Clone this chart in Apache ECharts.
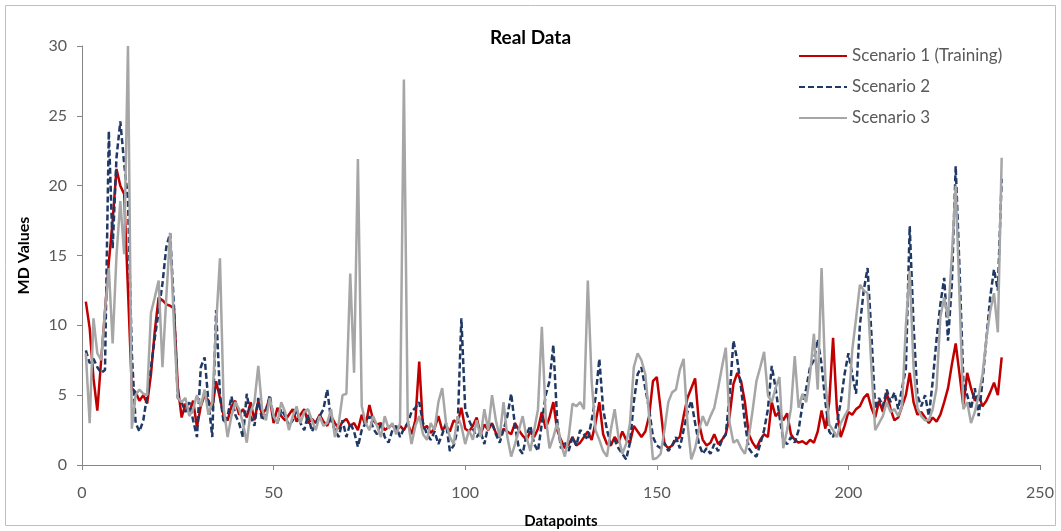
<!DOCTYPE html>
<html lang="en">
<head>
    <meta charset="UTF-8">
    <title>Real Data</title>
    <script src="https://cdn.jsdelivr.net/npm/echarts@6/dist/echarts.min.js"></script>
    <style>
        html, body { margin: 0; padding: 0; background: #fff; }
    </style>
</head>
<body>
    <div id="main" style="width: 1061px;height: 531px"></div>
<script>
    // values, one per datapoint (1..240)
    var scenario1 = [
        11.7, 9.8, 6.2, 3.9, 7.5, 11.0, 14.5, 17.5, 21.2, 20.0,
        19.4, 12.5, 5.5, 5.2, 4.6, 5.0, 4.4, 6.5, 9.6, 12.0,
        11.8, 11.5, 11.4, 11.2, 5.6, 3.4, 4.4, 3.8, 4.6, 2.7,
        4.2, 5.0, 4.6, 4.0, 6.0, 4.8, 3.5, 3.2, 4.2, 4.6,
        3.6, 4.0, 3.4, 4.5, 3.2, 4.6, 3.6, 4.0, 4.8, 3.0,
        4.1, 3.5, 3.2, 3.6, 4.0, 3.1, 3.6, 4.0, 3.0, 3.3,
        3.0, 3.6, 3.1, 2.8, 3.5, 3.0, 2.6, 3.1, 3.3, 2.8,
        3.0, 2.5, 3.6, 2.8, 4.3, 3.2, 2.9, 3.0, 2.5, 2.7,
        2.9, 2.4, 2.8, 2.5, 3.0, 2.2, 3.2, 7.4, 2.6, 2.8,
        2.3, 2.6, 3.5, 2.5, 2.8, 2.4, 3.2, 3.0, 4.1, 2.6,
        2.4, 2.8, 3.4, 2.2, 2.9, 2.5, 3.0, 2.3, 2.0, 2.6,
        2.4, 2.2, 3.0, 2.5, 2.1, 1.8, 2.4, 2.0, 2.6, 3.8,
        2.6, 3.4, 4.5, 2.5, 1.8, 1.2, 1.5, 2.0, 1.4, 1.6,
        2.0, 2.4, 1.8, 3.0, 4.5, 2.2, 1.5, 1.4, 2.0, 1.6,
        2.4, 1.8, 1.6, 2.8, 2.4, 2.0, 2.4, 3.5, 6.0, 6.3,
        4.0, 1.5, 1.2, 1.4, 1.8, 2.0, 3.5, 4.8, 5.5, 6.2,
        3.0, 1.8, 1.4, 1.6, 2.2, 1.5, 1.8, 2.2, 3.5, 5.8,
        6.6, 6.0, 4.5, 2.2, 1.6, 1.2, 1.8, 2.2, 2.0, 4.5,
        3.5, 3.8, 3.2, 3.7, 2.2, 1.8, 1.6, 1.7, 1.5, 1.8,
        1.6, 2.4, 3.9, 2.6, 4.5, 9.1, 4.0, 2.0, 2.8, 3.8,
        3.6, 4.0, 4.2, 4.8, 5.1, 4.1, 3.4, 4.6, 3.8, 5.2,
        4.0, 3.2, 3.4, 4.2, 5.0, 6.6, 4.5, 3.6, 3.8, 3.4,
        3.0, 3.4, 3.1, 3.6, 4.5, 5.5, 7.2, 8.7, 6.5, 4.2,
        6.6, 5.5, 4.6, 5.0, 4.2, 4.6, 5.2, 5.9, 5.0, 7.7
    ];
    var scenario2 = [
        8.2, 7.3, 7.6, 7.0, 6.6, 6.8, 23.9, 15.5, 22.0, 24.6,
        21.6, 19.0, 8.0, 3.0, 2.4, 3.2, 5.0, 7.0, 9.1, 11.0,
        13.0, 15.6, 16.6, 11.3, 4.8, 4.5, 3.8, 4.5, 3.2, 2.0,
        7.0, 7.7, 4.5, 2.0, 11.1, 5.0, 3.0, 3.5, 4.9, 3.6,
        3.0, 2.0, 5.1, 3.5, 2.8, 4.8, 3.2, 3.8, 5.0, 3.4,
        3.0, 4.0, 3.5, 2.8, 3.2, 4.0, 3.0, 2.5, 3.6, 2.4,
        3.0, 3.5, 4.0, 5.4, 3.2, 2.5, 2.0, 3.2, 2.0, 3.0,
        2.4, 1.3, 2.5, 3.0, 3.5, 2.6, 2.2, 3.0, 2.0, 1.6,
        2.5, 2.8, 2.0, 2.6, 3.0, 3.8, 4.1, 4.5, 3.0, 2.2,
        1.8, 2.4, 1.5, 2.2, 3.0, 1.0, 1.4, 2.5, 10.5, 4.0,
        3.2, 2.6, 2.0, 2.4, 1.5, 2.8, 3.0, 2.2, 1.6, 2.5,
        3.5, 5.1, 2.8, 1.2, 0.8, 2.2, 2.8, 1.5, 1.0, 3.0,
        5.0, 6.0, 8.6, 3.2, 1.2, 1.6, 1.0, 2.0, 1.4, 2.5,
        2.2, 1.8, 3.2, 4.8, 7.6, 4.0, 2.5, 1.5, 1.8, 1.2,
        0.8, 0.4, 1.6, 4.5, 6.5, 7.0, 5.5, 4.0, 2.0, 1.4,
        1.2, 1.6, 1.0, 1.4, 2.0, 1.2, 2.5, 3.8, 4.6, 3.0,
        1.5, 0.8, 1.2, 0.8, 1.5, 1.0, 1.8, 2.2, 5.0, 8.9,
        7.5, 5.5, 3.0, 1.2, 0.8, 0.6, 1.5, 2.5, 4.0, 7.1,
        5.5, 3.5, 1.8, 1.5, 2.0, 1.6, 2.5, 4.3, 5.5, 7.0,
        7.5, 9.0, 7.2, 4.5, 2.4, 2.0, 3.0, 4.5, 6.5, 8.0,
        6.5, 5.1, 10.0, 12.5, 14.1, 9.4, 4.0, 4.8, 4.2, 5.4,
        4.5, 5.2, 4.0, 5.5, 6.9, 17.1, 10.0, 5.0, 4.2, 5.0,
        3.5, 6.0, 9.0, 11.5, 13.4, 8.9, 13.0, 21.4, 14.0, 6.0,
        5.0, 4.0, 5.5, 3.5, 6.0, 9.0, 12.0, 14.0, 12.5, 20.5
    ];
    var scenario3 = [
        8.0, 3.0, 10.5, 8.0, 7.5, 11.0, 14.1, 8.7, 15.0, 18.9,
        15.1, 30.0, 2.6, 5.0, 5.4, 5.1, 5.0, 10.9, 12.0, 13.2,
        7.0, 12.0, 16.6, 10.0, 4.8, 4.5, 4.8, 3.5, 4.0, 5.0,
        4.2, 5.4, 3.6, 4.5, 10.0, 14.8, 4.0, 2.0, 3.5, 4.5,
        4.0, 3.0, 1.6, 3.8, 4.5, 7.1, 4.0, 3.2, 4.8, 3.5,
        3.0, 4.5, 3.8, 2.5, 3.5, 4.2, 3.0, 3.8, 4.0, 3.2,
        2.5, 3.5, 2.8, 3.0, 4.0, 2.0, 3.0, 5.0, 5.1, 13.7,
        6.6, 21.9, 4.2, 3.0, 2.5, 3.5, 2.8, 2.0, 3.5, 2.6,
        3.0, 2.2, 3.0, 27.6, 3.2, 1.5, 2.8, 3.5, 2.2, 1.8,
        3.0, 2.5, 4.5, 5.5, 3.0, 2.0, 1.5, 3.5, 2.8, 1.5,
        2.5, 1.8, 3.2, 2.0, 4.0, 2.5, 5.0, 3.2, 2.0, 4.5,
        2.0, 0.6, 1.5, 2.5, 3.5, 2.0, 1.0, 2.5, 4.0, 9.9,
        3.5, 1.2, 2.0, 3.0, 1.5, 0.6, 2.0, 4.4, 4.2, 4.5,
        4.0, 13.2, 6.0, 2.5, 1.8, 1.0, 0.6, 2.5, 4.0, 2.0,
        0.8, 1.5, 3.0, 7.0, 8.0, 7.5, 6.5, 3.5, 0.4, 0.5,
        0.8, 2.5, 4.5, 5.2, 5.4, 6.8, 7.6, 3.0, 0.4, 1.2,
        2.5, 3.5, 2.8, 3.5, 4.1, 5.5, 7.0, 8.4, 3.0, 1.6,
        1.8, 1.2, 0.8, 2.0, 3.9, 6.0, 7.0, 8.1, 5.0, 4.5,
        5.5, 6.3, 1.2, 2.5, 4.0, 7.8, 4.1, 5.1, 4.5, 6.5,
        9.4, 5.4, 14.1, 6.0, 2.9, 2.5, 2.0, 3.0, 3.5, 4.0,
        8.2, 10.5, 12.9, 12.5, 12.3, 7.0, 2.5, 3.0, 3.5, 4.5,
        3.8, 4.0, 3.5, 4.2, 10.0, 13.9, 7.0, 4.1, 3.5, 3.2,
        3.2, 4.0, 5.5, 10.6, 12.0, 10.5, 15.0, 20.0, 12.0, 4.0,
        4.5, 3.0, 3.8, 5.0, 6.5, 9.0, 11.0, 12.3, 9.5, 22.0
    ];
    var seriesNames = ['Scenario 1 (Training)', 'Scenario 2', 'Scenario 3'];
    var xTicks = [0, 50, 100, 150, 200, 250];
    var yTicks = [0, 5, 10, 15, 20, 25, 30];

    function toPairs(arr) {
        return arr.map(function (v, i) { return [i + 1, v]; });
    }

    var font = 'Lato, "Open Sans", sans-serif';
    var chart = echarts.init(document.getElementById('main'));
    var option = {
        animation: false,
        title: {
            text: 'Real Data',
            left: 'center',
            top: 23,
            textStyle: { fontFamily: font, fontSize: 19, fontWeight: 'bold', color: '#000' }
        },
        graphic: [{
            type: 'rect',
            shape: { x: 5.5, y: 5.5, width: 1050, height: 520 },
            style: { fill: 'none', stroke: '#bfbfbf', lineWidth: 1 },
            silent: true
        }],
        legend: {
            orient: 'vertical',
            left: 793,
            top: 42,
            itemWidth: 48,
            itemHeight: 10,
            itemGap: 13,
            itemStyle: { opacity: 0 },
            textStyle: { fontFamily: font, fontSize: 17, lineHeight: 18, color: '#595959' },
            data: seriesNames
        },
        grid: { left: 82, right: 21, top: 46, bottom: 66, outerBoundsMode: 'none', containLabel: false },
        xAxis: {
            type: 'value',
            min: xTicks[0],
            max: xTicks[xTicks.length - 1],
            interval: 50,
            name: 'Datapoints',
            nameLocation: 'middle',
            nameGap: 49,
            nameTextStyle: { fontFamily: font, fontSize: 15, fontWeight: 'bold', color: '#000' },
            axisLine: { lineStyle: { color: '#868686', width: 1 } },
            axisTick: { show: true, length: 5, lineStyle: { color: '#868686' } },
            axisLabel: { fontFamily: font, fontSize: 16, color: '#595959', margin: 20 },
            splitLine: { show: false }
        },
        yAxis: {
            type: 'value',
            min: yTicks[0],
            max: yTicks[yTicks.length - 1],
            interval: 5,
            name: 'MD Values',
            nameLocation: 'middle',
            nameGap: 50,
            nameTextStyle: { fontFamily: font, fontSize: 16, fontWeight: 'bold', color: '#000' },
            axisLine: { show: true, lineStyle: { color: '#868686', width: 1 } },
            axisTick: { show: true, length: 5, lineStyle: { color: '#868686' } },
            axisLabel: { fontFamily: font, fontSize: 16, color: '#595959', margin: 15 },
            splitLine: { show: false }
        },
        series: [
            {
                name: seriesNames[0],
                type: 'line',
                symbol: 'none',
                data: toPairs(scenario1),
                lineStyle: { color: '#C00000', width: 2.5 },
                itemStyle: { color: '#C00000' }
            },
            {
                name: seriesNames[1],
                type: 'line',
                symbol: 'none',
                data: toPairs(scenario2),
                lineStyle: { color: '#1F3864', width: 2.5, type: [6, 3] },
                itemStyle: { color: '#1F3864' }
            },
            {
                name: seriesNames[2],
                type: 'line',
                symbol: 'none',
                data: toPairs(scenario3),
                lineStyle: { color: '#A6A6A6', width: 2.5 },
                itemStyle: { color: '#A6A6A6' }
            }
        ]
    };
    chart.setOption(option);
</script>
</body>
</html>
